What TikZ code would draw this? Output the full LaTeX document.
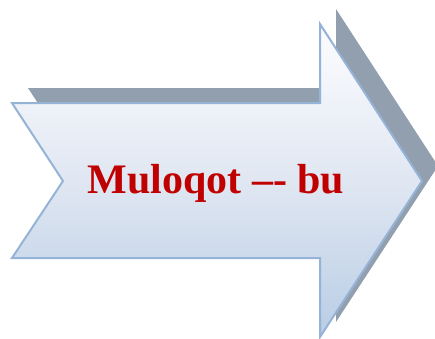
\documentclass[tikz,border=0pt]{standalone}
\usepackage{fontspec}
\setmainfont{Liberation Serif}
\begin{document}
\begin{tikzpicture}[x=1pt,y=-1pt,
  arrowshape/.style={draw=arrowline,line width=2pt,line join=miter,top color=arrowtop,bottom color=arrowbot,middle color=arrowmid},
  label/.style={font=\bfseries\fontsize{42}{48}\selectfont,text=labelred,inner sep=0pt,anchor=base}]
\definecolor{arrowline}{HTML}{95B3D7}
\definecolor{arrowtop}{HTML}{FDFDFF}
\definecolor{arrowmid}{HTML}{E0E7F2}
\definecolor{arrowbot}{HTML}{B9CDE5}
\definecolor{shadowcol}{HTML}{929FAE}
\definecolor{labelred}{HTML}{C00000}
\useasboundingbox (0,0) rectangle (435,338);
% shadow
\begin{scope}[shift={(16,-15)}]
\fill[shadowcol] (12,103) -- (320,103) -- (320,24) -- (422,181) -- (320,337) -- (320,258) -- (12,258) -- (63,181) -- cycle;
\end{scope}
% main arrow
\path[arrowshape] (12,103) -- (320,103) -- (320,24) -- (422,181) -- (320,337) -- (320,258) -- (12,258) -- (63,181) -- cycle;
\node[label] (t) at (216,193) {Muloqot –- bu};
\end{tikzpicture}
\end{document}
